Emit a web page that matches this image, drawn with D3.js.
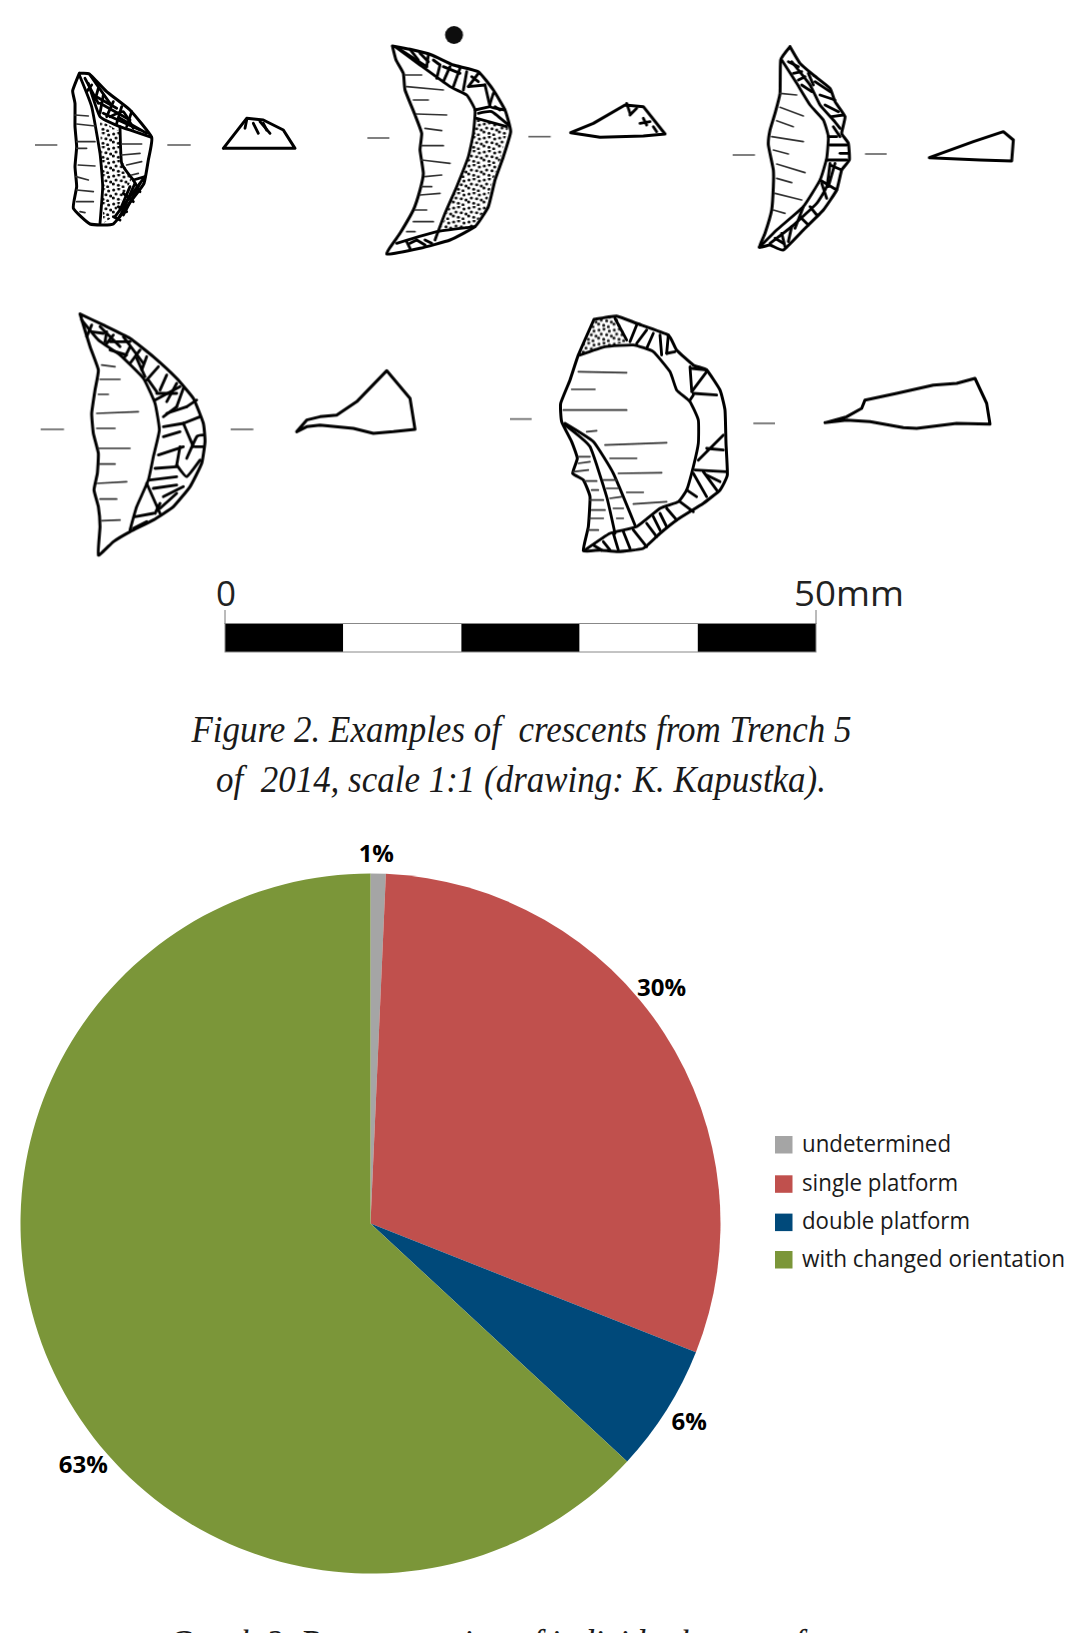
<!DOCTYPE html>
<html><head><meta charset="utf-8">
<style>html,body{margin:0;padding:0;background:#fff;overflow:hidden}svg{display:block}</style>
<script src="https://cdn.jsdelivr.net/npm/d3@7/dist/d3.min.js"></script></head>
<body><div id="chart"></div>
<script>
// ---- chart data ----
const categories = ["undetermined","single platform","double platform","with changed orientation"];
const sliceValues = [0.7,30.3,5.9,63.1];
const valueLabels = ["1%","30%","6%","63%"];
const sliceColors = ["#A5A5A5","#C0504D","#00497A","#7B9639"];
const legendBaselines = [1151.7,1191,1229.3,1266.7];
const legendWidths = [148,155,167,262];
const labelAnglesDeg = [0.9,50.9,121.8,230];
const captions = [
 {text:"Figure 2. Examples of  crescents from Trench 5",x:191.5,len:660,y:742},
 {text:"of  2014, scale 1:1 (drawing: K. Kapustka).",x:216,len:610,y:792},
 {text:"Graph 3. Representation of individual types of cores",x:168,len:717,y:1656}];
const scaleStops = [0,10,20,30,40,50];

// ---- illustration geometry (traced drawing, in 3x crop coordinates) ----
const art = [
 {o:[20,20],
  shapes:[
   [[178,160],[208,162],[260,215],[330,270],[395,352],[385,420],[372,490],[335,540],[280,612],[210,612],[160,565],[170,500],[165,440],[170,380],[165,320],[165,250],[158,212],[178,160]],
   [[610,385],[680,295],[730,300],[790,330],[825,385],[610,385]]],
  stipple:[[[240,300],[300,335],[305,420],[335,478],[280,590],[250,610],[245,450]]],
  lines:[[[178,165],[215,260],[240,400],[248,500],[240,610]],[[205,190],[240,290],[300,320],[395,352]],[[300,320],[305,430],[340,480]],[[340,480],[375,470]],[[375,470],[285,590]],
   [[215,195],[200,215]],[[235,205],[225,240]],[[250,225],[240,280]],[[280,245],[260,290]],[[305,260],[290,310]],[[335,275],[320,320]],[[250,280],[360,330]],[[270,290],[310,275],[340,325]],[[220,225],[290,265]],[[195,175],[235,250]],[[210,165],[270,250]],[[240,250],[330,300]],[[300,295],[380,340]],
   [[340,480],[360,515]],[[310,520],[340,545]],[[295,560],[320,575]],[[280,590],[300,600]],[[330,500],[300,570]],[[345,490],[300,590]],[[360,490],[310,585]],
   [[680,300],[675,325]],[[700,310],[715,340]],[[720,305],[750,340]],[[730,310],[740,330]]],
  ticks:[[[165,285],[205,288]],[[170,312],[225,318]],[[170,365],[225,365]],[[170,385],[200,385]],[[175,435],[225,438]],[[168,470],[205,480]],[[170,510],[220,515]],[[170,545],[220,545]],[[180,575],[195,578]],[[305,372],[365,372]],[[305,405],[360,400]],[[320,435],[365,425]],[[335,465],[355,460]]],
  dashes:[[[45,375],[112,375]],[[442,375],[512,375]]]},
 {o:[360,10],
  shapes:[
   [[97,108],[150,118],[215,135],[280,165],[355,185],[400,240],[435,300],[452,365],[430,440],[405,510],[385,590],[345,650],[270,690],[180,715],[80,732],[120,670],[160,600],[180,540],[190,490],[180,420],[185,370],[165,315],[135,240],[130,190],[108,150],[97,108]],
   [[632,368],[700,340],[795,285],[850,290],[915,372],[850,378],[720,382],[632,368]]],
  stipple:[[[350,325],[445,350],[420,450],[395,520],[375,600],[340,650],[240,665],[290,530],[330,440]]],
  lines:[[[108,112],[180,165],[270,230],[320,255],[345,300],[340,370],[325,440],[290,530],[255,610],[225,690]],[[355,310],[395,305],[445,345]],[[350,325],[440,350]],[[110,700],[230,665],[345,650]],
   [[150,118],[175,150]],[[180,130],[205,155]],[[205,135],[200,170]],[[220,150],[240,165]],[[240,165],[230,205]],[[270,170],[250,215]],[[300,175],[280,230]],[[320,185],[310,240]],[[355,190],[325,230]],[[335,200],[355,215]],[[325,230],[375,225]],[[375,225],[390,290]],[[345,300],[390,290]],[[400,250],[390,290],[435,300]],[[405,290],[420,300]],[[120,118],[200,170]],[[250,170],[300,190]],
   [[140,695],[150,715]],[[170,690],[195,705]],[[195,690],[215,700]],[[150,700],[170,690]],[[800,280],[810,310]],[[830,295],[810,315]],[[850,325],[860,345]],[[840,340],[870,335]],[[880,350],[890,365]]],
  ticks:[[[135,195],[185,195]],[[140,230],[250,240]],[[160,270],[205,270]],[[170,312],[260,315]],[[195,355],[245,362]],[[185,407],[250,407]],[[185,450],[270,460]],[[195,500],[245,495]],[[185,530],[215,530]],[[180,555],[240,550]],[[165,600],[200,600]],[[160,635],[220,635]],[[140,665],[165,665]]],
  dashes:[[[22,384],[88,384]],[[505,380],[572,380]]],
  dot:[282,75,27]},
 {o:[720,30],
  shapes:[
   [[210,50],[240,100],[280,135],[330,175],[345,215],[375,260],[365,310],[385,340],[388,390],[365,420],[350,480],[310,540],[250,600],[190,660],[150,645],[118,652],[135,610],[155,540],[160,470],[160,420],[145,345],[150,300],[165,250],[180,190],[182,90],[210,50]],
   [[628,383],[760,335],[850,305],[880,330],[875,393],[780,390],[628,383]]],
  stipple:[],
  lines:[[[185,90],[230,160],[270,225],[310,270],[325,320],[320,385],[300,450],[250,530],[170,600],[118,652]],[[215,95],[270,165],[300,225],[340,270],[360,295]],[[330,400],[320,470],[290,520],[215,590],[150,640]],
   [[205,95],[235,110]],[[220,130],[245,125]],[[235,150],[255,140]],[[245,165],[275,185]],[[265,130],[280,165]],[[285,155],[330,185]],[[300,195],[345,210]],[[315,225],[355,245]],[[335,260],[370,255]],[[340,290],[360,320]],[[325,320],[350,320]],[[330,345],[380,345]],[[320,390],[380,390]],[[360,370],[385,370]],[[345,400],[325,470]],[[365,420],[330,405]],[[305,460],[320,505]],[[300,450],[350,480]],[[270,530],[290,555]],[[240,560],[265,585]],[[215,590],[205,635]],[[185,610],[195,650]],[[165,625],[190,640]],[[250,530],[225,595]]],
  ticks:[[[180,190],[230,195]],[[180,232],[250,258]],[[170,272],[220,290]],[[155,320],[250,335]],[[160,360],[205,372]],[[170,402],[255,428]],[[170,445],[215,458]],[[165,490],[245,510]],[[160,540],[195,550]]],
  dashes:[[[38,375],[105,375]],[[435,372],[500,372]]]},
 {o:[20,300],
  shapes:[
   [[180,42],[250,75],[330,115],[400,170],[470,235],[520,295],[550,370],[555,425],[545,490],[510,560],[460,620],[400,660],[330,695],[280,725],[235,765],[240,680],[235,620],[222,570],[232,520],[235,460],[220,400],[215,340],[225,270],[235,210],[210,140],[180,42]],
   [[830,395],[860,360],[900,350],[950,345],[1010,305],[1100,212],[1170,295],[1185,388],[1120,395],[1060,400],[1000,385],[900,375],[860,380],[830,395]]],
  stipple:[],
  lines:[[[185,60],[235,120],[300,165],[370,235],[405,310],[418,390],[400,470],[385,540],[350,620],[330,690]],
   [[215,75],[200,110]],[[215,95],[250,100]],[[260,95],[255,125]],[[280,105],[260,130]],[[270,125],[330,125]],[[270,150],[320,165]],[[330,140],[315,170]],[[360,150],[330,190]],[[350,175],[375,230]],[[380,170],[365,210]],[[415,200],[380,240]],[[385,240],[410,275]],[[440,225],[420,270]],[[410,280],[470,280]],[[470,250],[440,305]],[[490,265],[470,320]],[[440,340],[500,320]],[[500,320],[530,300]],[[430,380],[490,370]],[[490,370],[540,350]],[[490,370],[520,440]],[[430,410],[480,395]],[[415,465],[490,440]],[[480,440],[470,495]],[[470,495],[500,530],[540,480]],[[500,475],[530,410],[550,405]],[[525,440],[550,440]],[[405,505],[470,500]],[[390,540],[470,530]],[[400,565],[470,555]],[[380,550],[420,640]],[[430,590],[490,560]],[[420,625],[470,580]],[[345,650],[400,640]],[[340,685],[380,665]],[[405,640],[420,610]],[[240,80],[300,140]],[[310,110],[370,190]],[[405,300],[480,260]],[[430,350],[470,320]]],
  ticks:[[[245,195],[285,200]],[[240,238],[300,238]],[[235,283],[265,283]],[[230,340],[355,335]],[[230,385],[285,385]],[[235,445],[330,445]],[[240,492],[285,492]],[[232,550],[320,545]],[[240,597],[290,597]],[[245,662],[300,660]]],
  dashes:[[[62,388],[132,388]],[[632,388],[700,388]]]},
 {o:[490,300],
  shapes:[
   [[312,58],[380,48],[440,70],[535,105],[560,150],[610,195],[650,210],[690,270],[705,330],[708,430],[712,525],[690,570],[640,610],[560,660],[510,700],[460,745],[385,755],[330,750],[280,752],[295,680],[300,590],[280,540],[248,520],[262,475],[245,425],[215,365],[212,310],[240,240],[265,165],[312,58]],
   [[1005,368],[1070,350],[1115,325],[1125,300],[1220,280],[1330,255],[1400,250],[1455,235],[1490,310],[1500,372],[1400,370],[1280,385],[1240,383],[1140,365],[1070,360],[1005,368]]],
  stipple:[[[312,58],[380,50],[415,125],[345,140],[270,165]]],
  lines:[[[270,165],[345,140],[430,135],[490,155],[540,215],[560,270],[600,305],[625,360],[625,430],[610,500],[590,570],[565,605],[510,625],[440,680],[360,700],[285,750]],
   [[375,55],[410,120]],[[440,75],[420,125]],[[470,90],[440,130]],[[490,100],[470,145]],[[510,105],[515,165]],[[535,105],[530,160]],[[530,160],[555,155]],[[600,200],[605,270]],[[605,205],[650,210]],[[650,215],[605,275]],[[610,280],[680,285]],[[600,300],[610,285]],
   [[700,405],[625,480]],[[650,445],[700,450]],[[615,510],[710,515]],[[610,520],[650,590]],[[650,525],[690,545]],[[640,515],[680,570]],[[590,570],[620,590]],[[570,605],[610,635]],[[530,625],[560,660]],[[510,640],[530,680]],[[490,650],[510,690]],[[470,670],[500,710]],[[430,690],[470,740]],[[400,695],[420,745]],[[370,700],[385,750]],[[340,725],[360,750]],[[310,735],[335,750]],
   [[225,375],[300,440],[350,590],[375,700]],[[225,370],[310,425],[370,520],[435,675]]],
  ticks:[[[265,215],[410,218]],[[245,268],[315,268]],[[220,330],[410,330]],[[290,395],[320,392]],[[345,435],[530,428]],[[360,475],[440,475]],[[385,520],[515,518]],[[410,577],[460,577]],[[430,612],[530,605]],[[265,470],[300,470]],[[265,490],[300,485]],[[250,515],[295,510]],[[285,543],[320,543]],[[305,570],[325,570]],[[300,600],[340,600]],[[305,630],[345,630]],[[300,655],[340,655]],[[295,690],[325,690]],[[340,540],[380,540]],[[350,565],[385,565]],[[360,595],[395,590]],[[370,625],[400,625]],[[380,655],[400,655]]],
  dashes:[[[60,357],[125,357]],[[790,370],[855,370]]]}
];

// ---- drawing ----
const W=1092,H=1633;
const svg=d3.select("#chart").append("svg").attr("width",W).attr("height",H).attr("viewBox",[0,0,W,H]);
const defs=svg.append("defs");
const blur=defs.append("filter").attr("id","soft");
blur.append("feGaussianBlur").attr("stdDeviation",0.5);
const pat=defs.append("pattern").attr("id","stip").attr("patternUnits","userSpaceOnUse").attr("width",46).attr("height",42);
[[5,6],[20,3],[36,9],[12,18],[28,20],[42,24],[4,30],[19,34],[33,38]].forEach(p=>pat.append("circle").attr("cx",p[0]).attr("cy",p[1]).attr("r",4.6).attr("fill","#111"));

const sharp=d3.line(), smooth=d3.line().curve(d3.curveCardinal.tension(0.6));
const drawing=svg.append("g").attr("filter","url(#soft)");
art.forEach(a=>{
  const g=drawing.append("g").attr("transform",`translate(${a.o[0]},${a.o[1]}) scale(${1/3})`).attr("fill","none").attr("stroke-linecap","round").attr("stroke-linejoin","round");
  a.stipple.forEach(s=>g.append("path").attr("d",sharp(s)+"Z").attr("fill","url(#stip)"));
  a.shapes.forEach((s,i)=>g.append("path").attr("d",(i==0?smooth:sharp)(s)).attr("stroke","#000").attr("stroke-width",9));
  a.lines.forEach(s=>g.append("path").attr("d",s.length>2?smooth(s):sharp(s)).attr("stroke","#000").attr("stroke-width",8.5));
  a.ticks.forEach(s=>g.append("path").attr("d",sharp(s)).attr("stroke","#333").attr("stroke-width",5));
  a.dashes.forEach(s=>g.append("path").attr("d",sharp(s)).attr("stroke","#666").attr("stroke-width",5).attr("stroke-linecap","butt"));
  if(a.dot) g.append("circle").attr("cx",a.dot[0]).attr("cy",a.dot[1]).attr("r",a.dot[2]).attr("fill","#111");
});

// scale bar
const sx=d3.scaleLinear().domain([0,50]).range([225,816]);
const bar=svg.append("g");
bar.selectAll("rect").data(d3.pairs(scaleStops)).join("rect")
  .attr("x",d=>sx(d[0])).attr("width",d=>sx(d[1])-sx(d[0])).attr("y",624).attr("height",28)
  .attr("fill",(d,i)=>i%2?"#fff":"#000");
bar.append("rect").attr("x",sx(0)).attr("y",623.5).attr("width",sx(50)-sx(0)).attr("height",28.5).attr("fill","none").attr("stroke","#888").attr("stroke-width",1);
[0,50].forEach(v=>bar.append("line").attr("x1",sx(v)).attr("x2",sx(v)).attr("y1",610).attr("y2",624).attr("stroke","#777").attr("stroke-width",1));
const barFont="'Open Sans',sans-serif";
bar.append("text").attr("x",sx(0)+1).attr("y",606).attr("text-anchor","middle").attr("font-family",barFont).attr("font-size",35).attr("fill","#222").text("0");
bar.append("text").attr("x",794).attr("y",606).attr("font-family",barFont).attr("font-size",35).attr("fill","#222").attr("textLength",110).attr("lengthAdjust","spacingAndGlyphs").text("50mm");

// captions
svg.append("g").selectAll("text").data(captions).join("text")
  .attr("x",d=>d.x).attr("y",d=>d.y).attr("textLength",d=>d.len).attr("lengthAdjust","spacingAndGlyphs")
  .attr("font-family","'Liberation Serif',serif").attr("font-style","italic").attr("font-size",38).attr("fill","#1a1a1a")
  .attr("xml:space","preserve").style("white-space","pre").text(d=>d.text);

// pie
const cx=370.5,cy=1223.5,R=350;
const pie=d3.pie().sort(null).value(d=>d);
const arc=d3.arc().innerRadius(0).outerRadius(R);
const color=d3.scaleOrdinal(categories,sliceColors);
const pg=svg.append("g").attr("transform",`translate(${cx},${cy})`);
pg.selectAll("path").data(pie(sliceValues)).join("path").attr("d",arc).attr("fill",(d,i)=>color(categories[i]));
pg.selectAll("text").data(valueLabels).join("text")
  .attr("transform",(d,i)=>`translate(${d3.pointRadial(labelAnglesDeg[i]*Math.PI/180,i==0?370:375)})`)
  .attr("text-anchor","middle").attr("dy","0.36em")
  .attr("font-family","'Open Sans',sans-serif").attr("font-weight",700).attr("font-size",24).attr("fill","#000").text(d=>d);

// legend
const lg=svg.append("g").selectAll("g").data(categories).join("g");
lg.append("rect").attr("x",775).attr("y",(d,i)=>legendBaselines[i]-15.7).attr("width",17.5).attr("height",17.5).attr("fill",d=>color(d));
lg.append("text").attr("x",802).attr("y",(d,i)=>legendBaselines[i]).attr("textLength",(d,i)=>legendWidths[i]+1).attr("lengthAdjust","spacingAndGlyphs")
  .attr("font-family","'Open Sans',sans-serif").attr("font-size",24).attr("fill","#1a1a1a").text(d=>d);
</script></body></html>
